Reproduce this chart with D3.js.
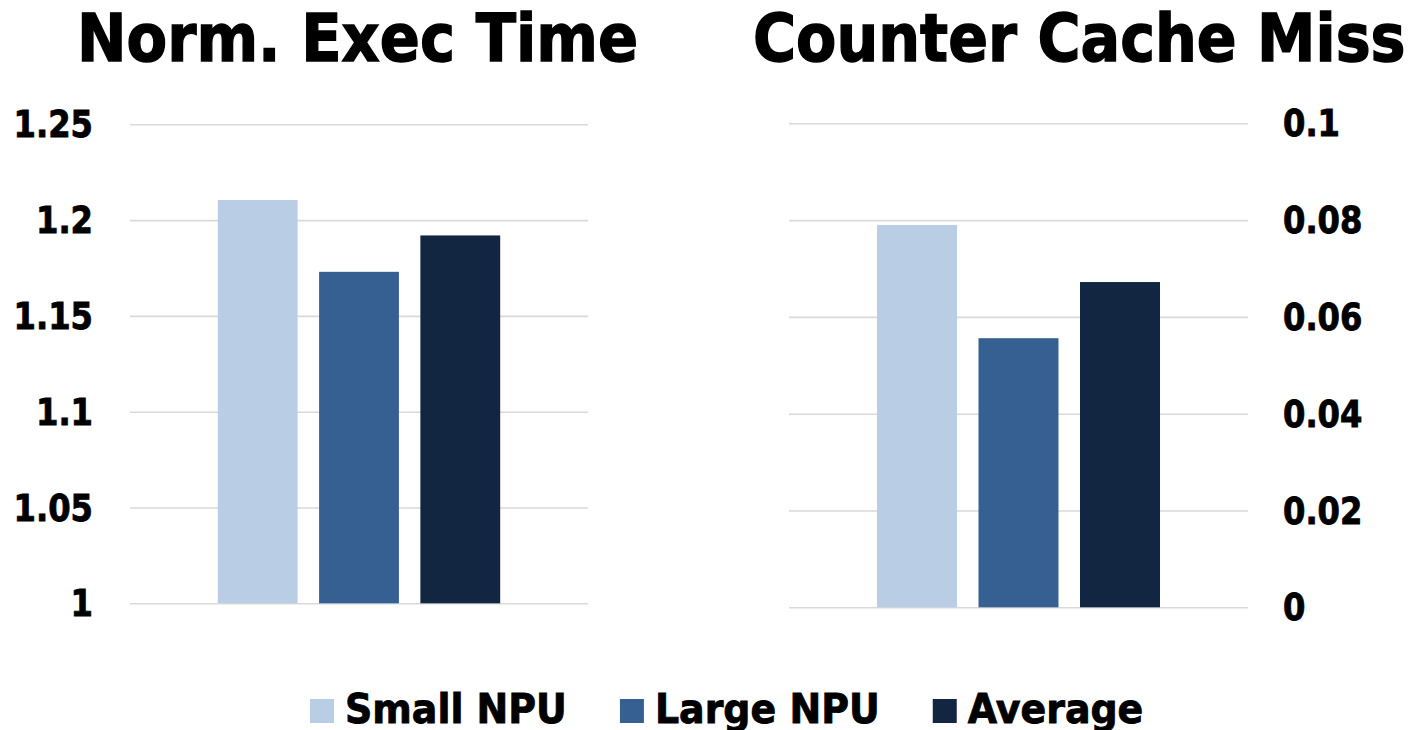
<!DOCTYPE html>
<html>
<head>
<meta charset="utf-8">
<script src="https://cdn.jsdelivr.net/npm/d3@7"></script>
<style>
  html, body { margin: 0; padding: 0; background: #fff; }
  svg { display: block; font-family: "DejaVu Sans", Verdana, sans-serif; font-weight: bold; }
</style>
</head>
<body>
<svg id="chart" width="1414" height="730"></svg>
<script>
// ---- data ----
const categories = ["Small NPU", "Large NPU", "Average"];
const execTimeValues = [1.2105, 1.173, 1.192];
const cacheMissValues = [0.079, 0.0556, 0.0672];
const execTimeTicks = [1, 1.05, 1.1, 1.15, 1.2, 1.25];
const cacheMissTicks = [0, 0.02, 0.04, 0.06, 0.08, 0.1];
const titles = ["Norm. Exec Time", "Counter Cache Miss"];
const colors = ["#b9cde5", "#376092", "#132641"];

const svg = d3.select("#chart");
const SX = 0.87; // horizontal condensing of glyphs

function panel(opts) {
  const x = d3.scaleBand().domain(categories)
    .range([opts.x0, opts.x1]).paddingInner(0.212).paddingOuter(0.867);
  const y = d3.scaleLinear().domain(opts.domain).range([opts.yBottom, opts.yTop]);
  const g = svg.append("g");

  // gridlines + labels via axis
  const axis = (opts.side === "left" ? d3.axisLeft(y) : d3.axisRight(y))
    .tickValues(opts.ticks)
    .tickSize(-(opts.x1 - opts.x0))
    .tickFormat(d3.format("~g"));
  const ax = g.append("g")
    .attr("transform", `translate(${opts.side === "left" ? opts.x0 : opts.x1},0)`)
    .call(axis);
  ax.select(".domain").remove();
  ax.selectAll(".tick line").attr("stroke", "#d9d9d9").attr("stroke-width", 1.6);
  ax.selectAll(".tick text")
    .attr("fill", "#000")
    .attr("stroke", "#000")
    .attr("stroke-width", 0.9)
    .style("font-size", "37px")
    .style("font-weight", "bold")
    .style("font-family", '"DejaVu Sans", Verdana, sans-serif')
    .attr("dy", "0.34em")
    .attr("x", (opts.side === "left" ? -opts.pad : opts.pad) / SX)
    .attr("transform", `scale(${SX},1)`);

  // bars
  g.selectAll("rect.bar").data(opts.values).enter().append("rect")
    .attr("class", "bar")
    .attr("x", (d, i) => x(categories[i]))
    .attr("width", x.bandwidth())
    .attr("y", d => y(d))
    .attr("height", d => y(opts.domain[0]) - y(d))
    .attr("fill", (d, i) => colors[i]);

  // title
  g.append("text")
    .attr("transform", `translate(${opts.titleX},61) scale(${opts.titleSX},1)`)
    .style("font-size", "66px")
    .attr("fill", "#000")
    .attr("stroke", "#000")
    .attr("stroke-width", 1.4)
    .text(opts.title);
}

panel({ side: "left", x0: 130, x1: 588, yBottom: 603.3, yTop: 124.3,
        domain: [1, 1.25], ticks: execTimeTicks, values: execTimeValues,
        pad: 37, title: titles[0], titleX: 77, titleSX: 0.897 });
panel({ side: "right", x0: 789, x1: 1248, yBottom: 607.3, yTop: 123.3,
        domain: [0, 0.1], ticks: cacheMissTicks, values: cacheMissValues,
        pad: 35, title: titles[1], titleX: 753, titleSX: 0.89 });

// legend
const LSX = 0.925;
let lx = 310;
categories.forEach((c, i) => {
  svg.append("rect").attr("x", lx).attr("y", 699).attr("width", 24).attr("height", 24)
    .attr("fill", colors[i]);
  const t = svg.append("text")
    .attr("transform", `translate(${lx + 35},723) scale(${LSX},1)`)
    .style("font-size", "41px")
    .attr("fill", "#000")
    .attr("stroke", "#000")
    .attr("stroke-width", 0.9)
    .text(c);
  const w = t.node().getComputedTextLength() * LSX;
  lx = lx + 35 + w + 53;
});
</script>
</body>
</html>
